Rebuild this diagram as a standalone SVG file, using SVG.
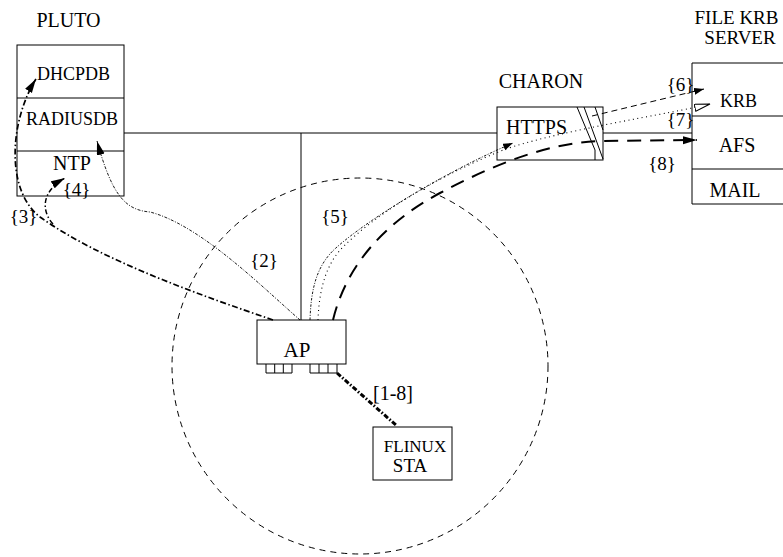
<svg xmlns="http://www.w3.org/2000/svg" width="783" height="557" viewBox="0 0 783 557">
<style>
text{font-family:"Liberation Serif","Times New Roman",serif;font-size:20px;fill:#000;text-anchor:middle}
.sm{font-size:18px}
.lb{font-size:19px}
.box{fill:none;stroke:#000;stroke-width:1}
.ln{fill:none;stroke:#000;stroke-width:1}
.c2{fill:none;stroke:#000;stroke-width:0.9;stroke-dasharray:3 1.5 1 1.5}
.c3{fill:none;stroke:#000;stroke-width:1.7;stroke-dasharray:6 2.5 1.5 2.5}
.c4{fill:none;stroke:#000;stroke-width:1.5;stroke-dasharray:5 2.5 1.5 2.5}
.c5{fill:none;stroke:#000;stroke-width:0.9;stroke-dasharray:2.5 1.5 1 1.5}
.c6{fill:none;stroke:#000;stroke-width:1;stroke-dasharray:6 4}
.c7{fill:none;stroke:#000;stroke-width:1.1;stroke-dasharray:1 3.5}
.c8{fill:none;stroke:#000;stroke-width:2;stroke-dasharray:14 9}
.c18{fill:none;stroke:#000;stroke-width:3;stroke-dasharray:5 2 1.5 2}
.zone{fill:none;stroke:#000;stroke-width:1;stroke-dasharray:6 5}
</style>
<defs>
<marker id="ah" markerUnits="userSpaceOnUse" markerWidth="16" markerHeight="10" refX="14" refY="4" orient="auto">
<path d="M0,0 L14,4 L0,8 Z" fill="#000"/>
</marker>
<marker id="ahs" markerUnits="userSpaceOnUse" markerWidth="12" markerHeight="8" refX="10" refY="3.5" orient="auto">
<path d="M0,0 L10,3.5 L0,7 Z" fill="#000"/>
</marker>
<marker id="aho" markerUnits="userSpaceOnUse" markerWidth="18" markerHeight="10" refX="16" refY="4" orient="auto">
<path d="M0.5,0.5 L16,4 L0.5,7.5 Z" fill="#fff" stroke="#000" stroke-width="1"/>
</marker>
</defs>

<circle class="zone" cx="360" cy="366" r="188"/>

<g id="connectors">
<path class="ln" d="M124,133 H497 M603,133 H692 M301,133 V320"/>
<path class="c2" d="M300,320 C260,285 200,225 150,212 C125,210 112,195 97,141" marker-end="url(#ah)"/>
<path class="c3" d="M273,320 C200,295 100,260 40,217 C5,190 10,120 36,79" marker-end="url(#ah)"/>
<path class="c4" d="M53,224 C42,212 40,192 65,178" marker-end="url(#ah)"/>
<path class="c5" d="M310,320 C311,290 316,265 337,247 C370,218 445,172 513,143" marker-end="url(#ahs)"/>
<path class="c7" d="M318,320 C319,292 325,265 343,247 C375,215 430,180 503,150 C560,130 670,114 710,104" marker-end="url(#aho)"/>
<path class="c6" d="M592,116 L704,89" marker-end="url(#ahs)"/>
<path class="c8" d="M333,320 C345,270 380,225 440,193 C480,172 540,143 600,141 L697,140" marker-end="url(#ah)"/>
<path class="c18" d="M337,373 L397,426"/>
</g>

<g id="pluto">
<text x="68.5" y="27">PLUTO</text>
<rect class="box" x="17" y="45" width="107" height="151"/>
<line class="ln" x1="17" y1="98" x2="124" y2="98"/>
<line class="ln" x1="17" y1="151" x2="124" y2="151"/>
<text class="sm" x="73.5" y="80">DHCPDB</text>
<text class="sm" x="72" y="125">RADIUSDB</text>
<text x="72" y="170">NTP</text>
</g>

<g id="charon">
<text x="541" y="88">CHARON</text>
<rect class="box" x="497" y="107" width="106" height="53"/>
<path class="ln" d="M577,107 L595,150 L595,160 M584,107 L603,159 M595,107 L603,130"/>
<text x="536.5" y="134">HTTPS</text>
</g>

<g id="server">
<text x="736.5" y="24" style="font-size:19px">FILE KRB</text>
<text x="740" y="44" style="font-size:19px">SERVER</text>
<path class="ln" d="M784,63 H692 V204 H784 M692,116 H784 M692,169 H784"/>
<text class="sm" x="738.5" y="107">KRB</text>
<text x="737" y="152">AFS</text>
<text x="735" y="197">MAIL</text>
</g>

<g id="ap">
<rect class="box" x="257" y="320" width="89" height="44"/>
<text x="297" y="357" style="font-size:21px">AP</text>
<path class="ln" d="M266,364 V373 H292 V364 M274.7,364 V373 M283.3,364 V373 M310,364 V373 H337 V364 M319,364 V373 M328,364 V373"/>
</g>

<g id="sta">
<rect class="box" x="373" y="427" width="79" height="53"/>
<text x="415" y="452" style="font-size:17px">FLINUX</text>
<text x="410" y="472" style="font-size:19px">STA</text>
</g>

<g id="labels">
<text class="lb" x="76.5" y="196">{4}</text>
<text class="lb" x="23.5" y="223">{3}</text>
<text class="lb" x="264" y="267">{2}</text>
<text class="lb" x="335" y="223">{5}</text>
<text class="lb" x="680.5" y="91">{6}</text>
<text class="lb" x="680.5" y="126">{7}</text>
<text class="lb" x="662" y="170">{8}</text>
<text x="393" y="400">[1-8]</text>
</g>
</svg>
